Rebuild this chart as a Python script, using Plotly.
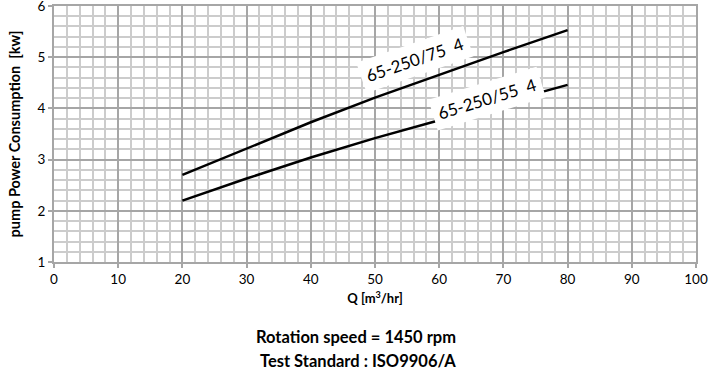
import plotly.graph_objects as go

q = [20, 30, 40, 50, 60, 70, 80]
p75 = [2.70, 3.22, 3.73, 4.21, 4.66, 5.10, 5.53]
p55 = [2.20, 2.63, 3.04, 3.42, 3.77, 4.12, 4.46]
label75 = "65-250/75  4"
label55 = "65-250/55  4"
x_ticks = list(range(0, 101, 10))
y_ticks = [1, 2, 3, 4, 5, 6]

FONT = "Lato, 'Open Sans', sans-serif"

fig = go.Figure()
fig.add_trace(go.Scatter(x=q, y=p75, mode="lines", line=dict(color="black", width=2.5), showlegend=False))
fig.add_trace(go.Scatter(x=q, y=p55, mode="lines", line=dict(color="black", width=2.5), showlegend=False))

fig.add_annotation(x=56.2, y=4.95, text=label75, showarrow=False, textangle=-19, borderpad=5,
                   bgcolor="white", font=dict(family=FONT, size=17, color="black"), xref="x", yref="y")
fig.add_annotation(x=67.5, y=4.2, text=label55, showarrow=False, textangle=-17, borderpad=5,
                   bgcolor="white", font=dict(family=FONT, size=17, color="black"), xref="x", yref="y")

fig.add_annotation(x=356, y=337, xref="paper", yref="paper", showarrow=False, yanchor="middle", xanchor="center",
                   text="<b>Rotation speed = 1450 rpm</b>", font=dict(family=FONT, size=16.5, color="black"))
fig.add_annotation(x=358, y=361, xref="paper", yref="paper", showarrow=False, yanchor="middle", xanchor="center",
                   text="<b>Test Standard : ISO9906/A</b>", font=dict(family=FONT, size=16.5, color="black"))

axis_common = dict(
    showgrid=True, gridcolor="#a6a6a6", gridwidth=2, automargin=False,
    showline=True, linecolor="#a6a6a6", linewidth=2, mirror=True,
    ticks="outside", ticklen=4, tickcolor="#a6a6a6", tickwidth=2,
    zeroline=False, tickfont=dict(family=FONT, size=13.5, color="black"),
    ticklabeloverflow="allow",
)

fig.update_xaxes(range=[0, 100], tickvals=x_ticks,
                 minor=dict(dtick=2, showgrid=True, gridcolor="#cccccc", gridwidth=2),
                 title=dict(text="<b>Q [m<sup>3</sup>/hr]</b>", font=dict(family=FONT, size=13, color="black"), standoff=8),
                 **axis_common)
fig.update_yaxes(range=[1, 6], tickvals=y_ticks,
                 minor=dict(dtick=0.2, showgrid=True, gridcolor="#cccccc", gridwidth=2),
                 title=dict(text="<b>pump Power Consumption  [kw]</b>", font=dict(family=FONT, size=14.5, color="black"), standoff=13),
                 **axis_common)

TOP, BOT, LEFT, RIGHT = 6, 116, 54, 17
fig.update_layout(width=713, height=378, margin=dict(l=LEFT, r=RIGHT, t=TOP, b=BOT),
                  plot_bgcolor="white", paper_bgcolor="white")

# convert pixel positions of bottom texts to paper coords
ph = 378 - TOP - BOT
pw = 713 - LEFT - RIGHT
for a in fig.layout.annotations[2:]:
    a.x = (a.x - LEFT) / pw
    a.y = (378 - BOT - a.y) / ph

fig.write_html("out.html", config={"displayModeBar": False},
               post_script="document.body.style.margin='0';document.body.style.overflow='hidden';")
